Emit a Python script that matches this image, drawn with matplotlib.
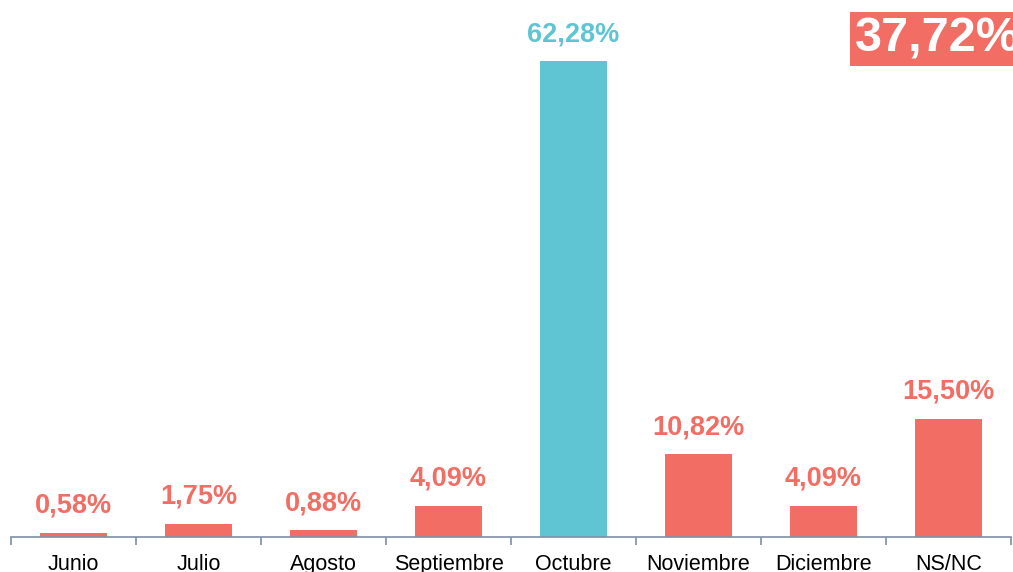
import numpy as np
import matplotlib.pyplot as plt

months = ['Junio', 'Julio', 'Agosto', 'Septiembre', 'Octubre', 'Noviembre', 'Diciembre', 'NS/NC']
values = [0.58, 1.75, 0.88, 4.09, 62.28, 10.82, 4.09, 15.50]
highlight = 'Octubre'
rest_total = '37,72%'

coral = '#F26D64'
teal = '#5FC5D2'
axis_col = '#7F8FA6'

plt.rcParams['font.family'] = ['Liberation Sans', 'DejaVu Sans']

fig = plt.figure(figsize=(10.13, 5.72), dpi=100)
ax = fig.add_axes([11 / 1013, 1 - 537 / 572, 1000 / 1013, 535 / 572])

x = np.arange(len(months))
colors = [teal if m == highlight else coral for m in months]
bars = ax.bar(x, values, width=0.53, color=colors)

for b, v, c in zip(bars, values, colors):
    ax.annotate(f'{v:.2f}%'.replace('.', ','), (b.get_x() + b.get_width() / 2, v),
                xytext=(0, 10), textcoords='offset points', ha='center', va='bottom',
                fontsize=19.5, fontweight='bold', color=c)

ax.set_xlim(-0.5, len(months) - 0.5)
ax.set_ylim(0, 70)
ax.set_xticks(x)
ax.set_xticklabels(months, fontsize=15.5)
ax.tick_params(axis='x', which='major', length=0, pad=12)
ax.set_xticks(np.arange(len(months) + 1) - 0.5, minor=True)
ax.tick_params(axis='x', which='minor', length=6, width=1.2, color=axis_col)
ax.set_yticks([])
for s in ['top', 'right', 'left']:
    ax.spines[s].set_visible(False)
ax.spines['bottom'].set_color(axis_col)
ax.spines['bottom'].set_linewidth(1.2)

fig.text(855 / 1013, 1 - 39 / 572, rest_total, ha='left', va='center',
         fontsize=35, fontweight='bold', color='white',
         bbox=dict(boxstyle='square,pad=0.1', facecolor=coral, edgecolor='none'))

fig.savefig('out.png', dpi=100)
